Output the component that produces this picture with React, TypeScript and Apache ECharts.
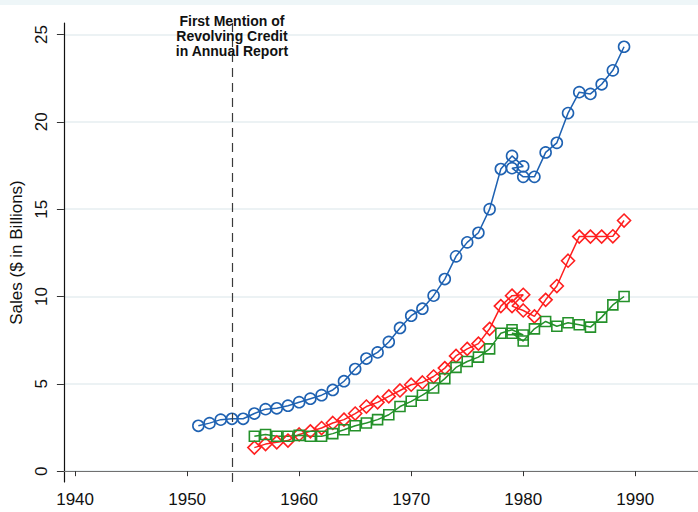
import React, { useEffect, useRef } from "react";
import * as echarts from "echarts";

// ---- data ----
const blueYears = [
  1951, 1952, 1953, 1954, 1955, 1956, 1957, 1958, 1959, 1960,
  1961, 1962, 1963, 1964, 1965, 1966, 1967, 1968, 1969, 1970,
  1971, 1972, 1973, 1974, 1975, 1976, 1977, 1978, 1979, 1980,
  1979, 1980, 1981, 1982, 1983, 1984, 1985, 1986, 1987, 1988, 1989,
];
const blueValues = [
  2.6, 2.75, 2.95, 3.0, 3.0, 3.3, 3.55, 3.6, 3.75, 3.95,
  4.15, 4.35, 4.65, 5.15, 5.85, 6.45, 6.8, 7.4, 8.2, 8.9,
  9.3, 10.05, 11.0, 12.3, 13.1, 13.65, 15.0, 17.3, 18.05, 17.45,
  17.35, 16.85, 16.85, 18.25, 18.8, 20.5, 21.7, 21.6, 22.15, 22.95, 24.3,
];

const redYears = [
  1956, 1957, 1958, 1959, 1960, 1961, 1962, 1963, 1964, 1965,
  1966, 1967, 1968, 1969, 1970, 1971, 1972, 1973, 1974, 1975,
  1976, 1977, 1978, 1979, 1980, 1979, 1980, 1981, 1982, 1983,
  1984, 1985, 1986, 1987, 1988, 1989,
];
const redValues = [
  1.35, 1.55, 1.65, 1.75, 2.1, 2.28, 2.47, 2.76, 2.95, 3.3,
  3.7, 3.94, 4.28, 4.62, 4.95, 5.08, 5.42, 5.9, 6.6, 7.0,
  7.3, 8.15, 9.45, 10.05, 10.1, 9.45, 9.2, 8.86, 9.81, 10.6,
  12.05, 13.43, 13.43, 13.43, 13.45, 14.35,
];

const greenYears = [
  1956, 1957, 1958, 1959, 1960, 1961, 1962, 1963, 1964, 1965,
  1966, 1967, 1968, 1969, 1970, 1971, 1972, 1973, 1974, 1975,
  1976, 1977, 1978, 1979, 1980, 1979, 1980, 1981, 1982, 1983,
  1984, 1985, 1986, 1987, 1988, 1989,
];
const greenValues = [
  2.0, 2.1, 2.0, 2.0, 2.05, 2.0, 2.0, 2.15, 2.37, 2.6,
  2.76, 2.95, 3.23, 3.7, 4.0, 4.35, 4.76, 5.3, 5.94, 6.28,
  6.53, 7.0, 7.9, 8.1, 7.8, 7.9, 7.45, 8.15, 8.57, 8.3,
  8.5, 8.38, 8.25, 8.82, 9.52, 10.0,
];

const xTicks = [1940, 1950, 1960, 1970, 1980, 1990];
const yTicks = [0, 5, 10, 15, 20, 25];
const eventYear = 1954;
const eventLabel = "First Mention of\nRevolving Credit\nin Annual Report";
const yAxisTitle = "Sales ($ in Billions)";

const FONT = '"Liberation Sans", Arial, Helvetica, sans-serif';
const BLUE = "#1f62b2";
const RED = "#ff1f1f";
const GREEN = "#24912a";

function pairs(xs: number[], ys: number[]) {
  return xs.map((x, i) => [x, ys[i]]);
}

function makeSeries(name: string, xs: number[], ys: number[], color: string, symbol: string, size: number) {
  return {
    name,
    type: "line",
    data: pairs(xs, ys),
    symbol,
    symbolSize: size,
    showSymbol: true,
    lineStyle: { color, width: 1.5 },
    itemStyle: { color: "rgba(0,0,0,0)", borderColor: color, borderWidth: 1.6 },
    emphasis: { disabled: true },
    z: 3,
  };
}

export default function App() {
  const ref = useRef<HTMLDivElement>(null);
  useEffect(() => {
    if (!ref.current) return;
    const chart = echarts.init(ref.current, null, { renderer: "svg" });
    chart.setOption({
      animation: false,
      backgroundColor: "#ffffff",
      grid: { left: 60, right: 0, top: 23, bottom: 30, containLabel: false },
      xAxis: {
        type: "value",
        min: 1939,
        max: 1995.6,
        axisLine: { show: true, lineStyle: { color: "#707070", width: 1.2 } },
        axisTick: { show: true, length: 5, customValues: xTicks, lineStyle: { color: "#333" } },
        axisLabel: {
          customValues: xTicks,
          formatter: (v: number) => String(v),
          fontSize: 17,
          color: "#111",
          fontFamily: FONT,
          margin: 9,
        },
        splitLine: { show: false },
      },
      yAxis: {
        type: "value",
        min: -0.62,
        max: 25.66,
        name: yAxisTitle,
        nameLocation: "middle",
        nameGap: 33,
        nameTextStyle: { fontSize: 17, color: "#111", fontFamily: FONT },
        axisLine: { show: true, lineStyle: { color: "#111", width: 1.2 } },
        axisTick: { show: true, length: 7, customValues: yTicks, lineStyle: { color: "#333" } },
        axisLabel: {
          customValues: yTicks,
          formatter: (v: number) => String(v),
          rotate: 90,
          fontSize: 17,
          color: "#111",
          fontFamily: FONT,
          margin: 14,
        },
        splitLine: { show: true, lineStyle: { color: "#e6eef0", width: 1.5 } },
      },
      series: [
        {
          ...makeSeries("Series 1", blueYears, blueValues, BLUE, "circle", 11),
          markLine: {
            silent: true,
            symbol: "none",
            label: { show: false },
            lineStyle: { color: "#3a3a3a", type: [9, 6], width: 1.2 },
            data: [{ xAxis: eventYear }],
          },
        },
        makeSeries("Series 2", redYears, redValues, RED, "diamond", 13),
        makeSeries("Series 3", greenYears, greenValues, GREEN, "rect", 10),
      ],
    });
    const px = chart.convertToPixel({ xAxisIndex: 0 }, eventYear) as number;
    chart.setOption({
      graphic: [
        {
          type: "rect",
          shape: { x: 0, y: 0, width: 698, height: 5 },
          style: { fill: "#eef6f8" },
          silent: true,
        },
        {
          type: "text",
          x: px,
          y: 13,
          z: 10,
          style: {
            text: eventLabel,
            align: "center",
            verticalAlign: "top",
            textAlign: "center",
            textVerticalAlign: "top",
            font: `bold 14px ${FONT}`,
            lineHeight: 15,
            fill: "#111",
          },
        },
      ],
    });
    return () => chart.dispose();
  }, []);
  return (
    <div
      ref={ref}
      style={{ position: "absolute", left: 0, top: 0, width: 698, height: 512 }}
    />
  );
}
